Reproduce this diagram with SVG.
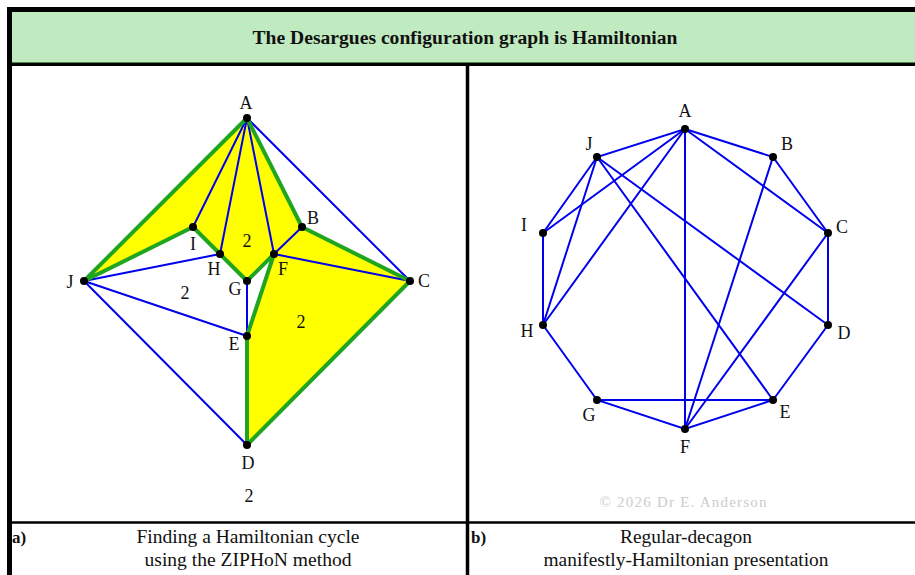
<svg xmlns="http://www.w3.org/2000/svg" width="915" height="575" viewBox="0 0 915 575">
<style>
.frame{stroke:#000;fill:none}
.lbl{font-family:"Liberation Serif","Times New Roman",serif;font-size:18px;fill:#111;text-anchor:middle}
.cap{font-family:"Liberation Serif","Times New Roman",serif;font-size:18px;fill:#111;text-anchor:middle}
.e{stroke:#0000ee;stroke-width:2;fill:none;stroke-linecap:round}
.g{stroke:#1fa51f;stroke-width:4;fill:none;stroke-linejoin:round;stroke-linecap:round}
.dot{fill:#000}
</style>
<rect x="0" y="0" width="915" height="575" fill="#fff"/>
<!-- title bar -->
<rect x="12" y="12" width="903" height="51" fill="#c0eac0"/>
<line x1="12" y1="62.5" x2="915" y2="62.5" stroke="#4a8a4a" stroke-width="1"/>
<line x1="7" y1="64.5" x2="915" y2="64.5" stroke="#000" stroke-width="3"/>
<line x1="7" y1="9.5" x2="915" y2="9.5" stroke="#000" stroke-width="5"/>
<line x1="9.5" y1="7" x2="9.5" y2="575" stroke="#000" stroke-width="5"/>
<line x1="467.5" y1="66" x2="467.5" y2="575" stroke="#000" stroke-width="3.5"/>
<line x1="12" y1="522.5" x2="915" y2="522.5" stroke="#000" stroke-width="2.5"/>
<text x="465" y="44" font-family="Liberation Serif,serif" font-weight="bold" font-size="18" text-anchor="middle" textLength="425" lengthAdjust="spacingAndGlyphs" fill="#111">The Desargues configuration graph is Hamiltonian</text>

<!-- Left panel -->
<g id="cycle-fill">
<polygon points="247,118 84,281 193,227 220,254 247,281 274,254 247,336 247,445 410,281 302,227" fill="#ffff00"/>
</g>
<g id="edges-left">
<line class="e" x1="247" y1="118" x2="193" y2="227"/>
<line class="e" x1="247" y1="118" x2="220" y2="254"/>
<line class="e" x1="247" y1="118" x2="274" y2="254"/>
<line class="e" x1="247" y1="118" x2="410" y2="281"/>
<line class="e" x1="302" y1="227" x2="274" y2="254"/>
<line class="e" x1="410" y1="281" x2="274" y2="254"/>
<line class="e" x1="84" y1="281" x2="247" y2="445"/>
<line class="e" x1="84" y1="281" x2="247" y2="336"/>
<line class="e" x1="84" y1="281" x2="220" y2="254"/>
<line class="e" x1="247" y1="281" x2="247" y2="336"/>
<polyline class="g" points="247,118 84,281 193,227 220,254 247,281 274,254 247,336 247,445 410,281 302,227 247,118"/>
</g>
<g id="nodes-left">
<g id="L-A"><circle class="dot" cx="247" cy="118" r="4"/><text class="lbl" x="246" y="109">A</text></g>
<g id="L-B"><circle class="dot" cx="302" cy="227" r="4"/><text class="lbl" x="313" y="224">B</text></g>
<g id="L-C"><circle class="dot" cx="410" cy="281" r="4"/><text class="lbl" x="424" y="287">C</text></g>
<g id="L-D"><circle class="dot" cx="247" cy="445" r="4"/><text class="lbl" x="248" y="469">D</text></g>
<g id="L-E"><circle class="dot" cx="247" cy="336" r="4"/><text class="lbl" x="234" y="350">E</text></g>
<g id="L-F"><circle class="dot" cx="274" cy="254" r="4"/><text class="lbl" x="283" y="275">F</text></g>
<g id="L-G"><circle class="dot" cx="247" cy="281" r="4"/><text class="lbl" x="235" y="295">G</text></g>
<g id="L-H"><circle class="dot" cx="220" cy="254" r="4"/><text class="lbl" x="214" y="275">H</text></g>
<g id="L-I"><circle class="dot" cx="193" cy="227" r="4"/><text class="lbl" x="193" y="250">I</text></g>
<g id="L-J"><circle class="dot" cx="84" cy="281" r="4"/><text class="lbl" x="70" y="288">J</text></g>
</g>
<g id="face-labels">
<text class="lbl" x="247" y="247">2</text>
<text class="lbl" x="185" y="299">2</text>
<text class="lbl" x="301" y="328">2</text>
<text class="lbl" x="249" y="502">2</text>
</g>

<!-- Right panel -->
<g id="edges-right">
<polygon class="e" points="685,129 773,157 828,233 828,325 773,400 685,429 597,400 543,325 543,233 597,157"/>
<line class="e" x1="685" y1="129" x2="543" y2="233"/>
<line class="e" x1="685" y1="129" x2="543" y2="325"/>
<line class="e" x1="685" y1="129" x2="685" y2="429"/>
<line class="e" x1="685" y1="129" x2="828" y2="233"/>
<line class="e" x1="597" y1="157" x2="543" y2="325"/>
<line class="e" x1="597" y1="157" x2="773" y2="400"/>
<line class="e" x1="597" y1="157" x2="828" y2="325"/>
<line class="e" x1="773" y1="157" x2="685" y2="429"/>
<line class="e" x1="828" y1="233" x2="685" y2="429"/>
<line class="e" x1="597" y1="400" x2="773" y2="400"/>
</g>
<g id="nodes-right">
<g id="R-A"><circle class="dot" cx="685" cy="129" r="4"/><text class="lbl" x="685" y="117">A</text></g>
<g id="R-B"><circle class="dot" cx="773" cy="157" r="4"/><text class="lbl" x="787" y="150">B</text></g>
<g id="R-C"><circle class="dot" cx="828" cy="233" r="4"/><text class="lbl" x="842" y="233">C</text></g>
<g id="R-D"><circle class="dot" cx="828" cy="325" r="4"/><text class="lbl" x="844" y="339">D</text></g>
<g id="R-E"><circle class="dot" cx="773" cy="400" r="4"/><text class="lbl" x="785" y="418">E</text></g>
<g id="R-F"><circle class="dot" cx="685" cy="429" r="4"/><text class="lbl" x="685" y="453">F</text></g>
<g id="R-G"><circle class="dot" cx="597" cy="400" r="4"/><text class="lbl" x="589" y="421">G</text></g>
<g id="R-H"><circle class="dot" cx="543" cy="325" r="4"/><text class="lbl" x="527" y="337">H</text></g>
<g id="R-I"><circle class="dot" cx="543" cy="233" r="4"/><text class="lbl" x="524" y="231">I</text></g>
<g id="R-J"><circle class="dot" cx="597" cy="157" r="4"/><text class="lbl" x="589" y="150">J</text></g>
</g>
<text x="683" y="507" font-family="Liberation Serif,serif" font-size="15" fill="#cccccc" text-anchor="middle" textLength="167" lengthAdjust="spacing">© 2026 Dr E. Anderson</text>

<!-- captions -->
<text x="12" y="543" font-family="Liberation Serif,serif" font-weight="bold" font-size="17" fill="#111">a)</text>
<text class="cap" x="248" y="543" textLength="223" lengthAdjust="spacingAndGlyphs">Finding a Hamiltonian cycle</text>
<text class="cap" x="248" y="566" textLength="207" lengthAdjust="spacingAndGlyphs">using the ZIPHoN method</text>
<text x="471" y="543" font-family="Liberation Serif,serif" font-weight="bold" font-size="17" fill="#111">b)</text>
<text class="cap" x="686" y="543" textLength="132" lengthAdjust="spacingAndGlyphs">Regular-decagon</text>
<text class="cap" x="686" y="566" textLength="285" lengthAdjust="spacingAndGlyphs">manifestly-Hamiltonian presentation</text>
</svg>
